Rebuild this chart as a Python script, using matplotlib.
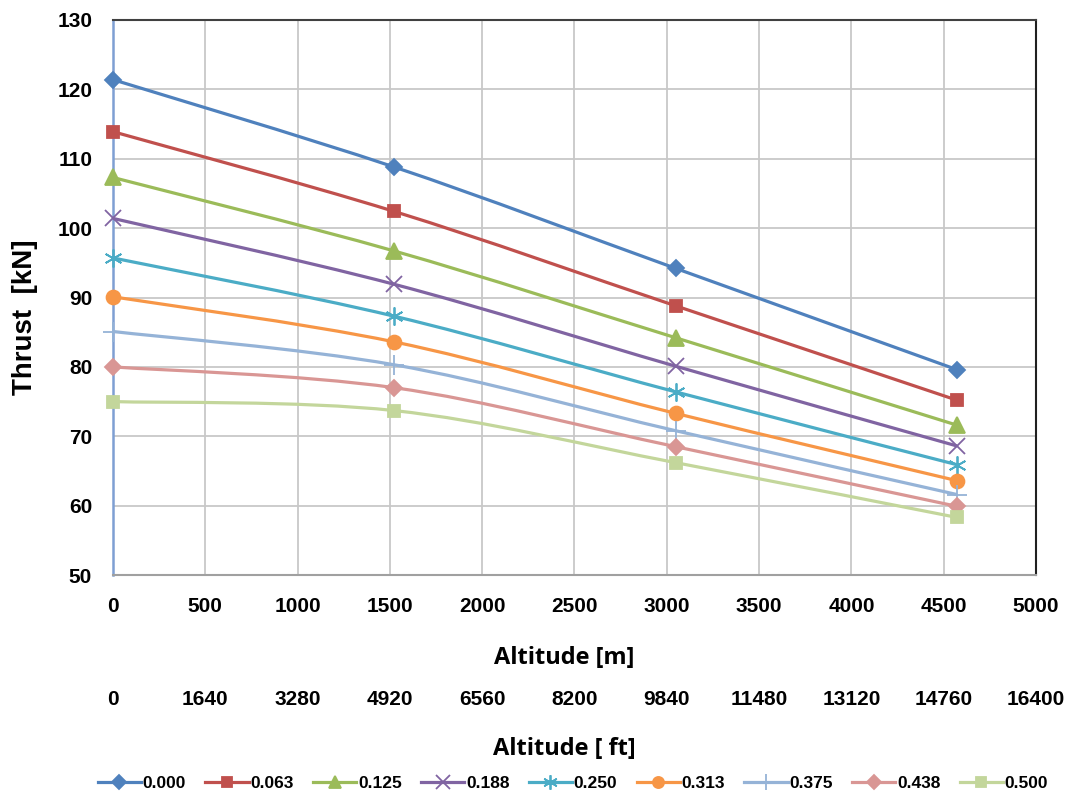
import numpy as np
import matplotlib
matplotlib.use("Agg")
import matplotlib.pyplot as plt
from matplotlib.path import Path
from matplotlib.patches import PathPatch
from matplotlib.lines import Line2D

# Données
altitude_m = [0, 1524, 3048, 4572]
series_labels = ["0.000", "0.063", "0.125", "0.188", "0.250", "0.313", "0.375", "0.438", "0.500"]
thrust_000 = [121.4, 108.8, 94.2, 79.6]
thrust_063 = [113.9, 102.4, 88.8, 75.2]
thrust_125 = [107.3, 96.7, 84.2, 71.6]
thrust_188 = [101.4, 91.9, 80.1, 68.6]
thrust_250 = [95.7, 87.3, 76.4, 65.9]
thrust_313 = [90.1, 83.6, 73.3, 63.6]
thrust_375 = [85.1, 80.3, 70.8, 61.6]
thrust_438 = [80.0, 77.0, 68.5, 59.9]
thrust_500 = [75.0, 73.7, 66.2, 58.3]
all_thrust = [thrust_000, thrust_063, thrust_125, thrust_188, thrust_250,
              thrust_313, thrust_375, thrust_438, thrust_500]

m_ticks = [0, 500, 1000, 1500, 2000, 2500, 3000, 3500, 4000, 4500, 5000]
ft_labels = ["0", "1640", "3280", "4920", "6560", "8200", "9840",
             "11480", "13120", "14760", "16400"]

colors = ["#4F81BD", "#C0504D", "#9BBB59", "#8064A2", "#4BACC6",
          "#F79646", "#95B3D7", "#D99694", "#C3D69B"]
markers = ["D", "s", "^", "x", (6, 2, 0), "o", "+", "D", "s"]
msizes = [8.5, 9, 11, 12, 13, 10, 14, 8.5, 9]


def smooth_path(x, y):
    # courbe lissée façon Excel (Bezier Catmull-Rom)
    pts = np.column_stack([x, y]).astype(float)
    n = len(pts)
    verts = [pts[0]]
    codes = [Path.MOVETO]
    for i in range(n - 1):
        p0 = pts[i - 1] if i > 0 else pts[i]
        p1 = pts[i]
        p2 = pts[i + 1]
        p3 = pts[i + 2] if i + 2 < n else pts[i + 1]
        c1 = p1 + (p2 - p0) / 6.0
        c2 = p2 - (p3 - p1) / 6.0
        verts += [c1, c2, p2]
        codes += [Path.CURVE4] * 3
    return Path(verts, codes)


fig = plt.figure(figsize=(10.73, 7.96), dpi=100)
ax = fig.add_axes([0.1053, 0.2776, 0.8602, 0.6973])

handles = []
for vals, lab, c, mk, ms in zip(all_thrust, series_labels, colors, markers, msizes):
    patch = PathPatch(smooth_path(altitude_m, vals), facecolor="none",
                      edgecolor=c, linewidth=2.3, zorder=3)
    ax.add_patch(patch)
    ax.plot(altitude_m, vals, linestyle="none", marker=mk, markersize=ms,
            color=c, markeredgecolor=c, markeredgewidth=1.3, zorder=4,
            clip_on=False)
    handles.append(Line2D([], [], color=c, linewidth=2.3, marker=mk,
                          markersize=ms * 0.8, markeredgewidth=1.3, label=lab))

ax.set_xlim(0, 5000)
ax.set_ylim(50, 130)
ax.set_xticks(m_ticks)
ax.set_yticks(range(50, 131, 10))
ax.grid(True, color="#C8C8C8", linewidth=1.3)
ax.set_axisbelow(True)
ax.tick_params(length=0, labelsize=15)
ax.tick_params(axis="x", pad=16)
ax.tick_params(axis="y", pad=15)
for lbl in ax.get_xticklabels() + ax.get_yticklabels():
    lbl.set_fontweight("bold")
    lbl.set_fontfamily("Liberation Sans")

ax.spines["left"].set_color("#7E9FD3")
ax.spines["left"].set_linewidth(1.8)
ax.spines["bottom"].set_color("#A0A0A0")
ax.spines["bottom"].set_linewidth(1.5)
ax.spines["top"].set_color("#404040")
ax.spines["top"].set_linewidth(1.5)
ax.spines["right"].set_color("#202020")
ax.spines["right"].set_linewidth(1.5)

ax.set_ylabel("Thrust  [kN]", fontsize=20, fontweight="bold",
              fontfamily="Liberation Sans")
ax.yaxis.set_label_coords(-0.081, 0.465)
ax.set_xlabel("Altitude [m]", fontsize=17, fontweight="bold",
              fontfamily="Open Sans")
ax.xaxis.set_label_coords(0.489, -0.128)

# second axe en pieds
sec = ax.secondary_xaxis(-0.207)
sec.set_xticks(m_ticks)
sec.set_xticklabels(ft_labels)
sec.spines["bottom"].set_visible(False)
sec.tick_params(length=0, labelsize=15, pad=0)
for lbl in sec.get_xticklabels():
    lbl.set_fontweight("bold")
    lbl.set_fontfamily("Liberation Sans")
ax.text(0.489, -0.292, "Altitude [ ft]", transform=ax.transAxes,
        ha="center", va="top", fontsize=17, fontweight="bold",
        fontfamily="Open Sans")

fig.legend(handles=handles, loc="center", bbox_to_anchor=(0.534, 0.016),
           ncol=9, frameon=False, handlelength=2.5, handletextpad=0.1,
           columnspacing=1.1, prop={"family": "Liberation Sans",
                                    "weight": "bold", "size": 12.5})

fig.savefig("out.png", dpi=100)
